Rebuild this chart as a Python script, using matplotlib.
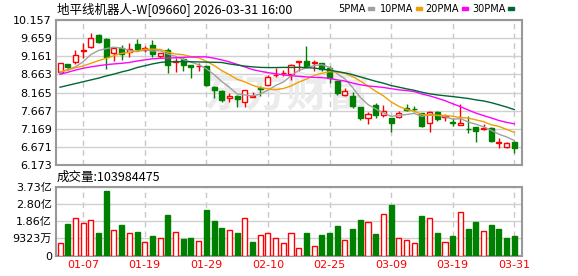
import numpy as np
import matplotlib
matplotlib.use("Agg")
import matplotlib.pyplot as plt
from matplotlib.patches import Rectangle

plt.rcParams['font.family'] = ['DejaVu Sans', 'Noto Sans CJK SC']

# ---- data (price in HKD, volume in 亿 shares) ----
tick_idx = [3, 11, 19, 27, 35, 43, 51, 59]
tick_lbl = ['01-07', '01-19', '01-29', '02-10', '02-25', '03-09', '03-19', '03-31']

opens = [8.736, 8.940, 8.995, 9.305, 9.407, 9.745, 9.627, 9.242, 9.396, 9.286,
         9.489, 9.341, 9.470, 9.176, 9.333, 9.011, 9.077, 8.920, 8.885, 8.893,
         8.316, 8.206, 8.005, 8.069, 7.895, 8.033, 8.280, 8.371, 8.640, 8.690,
         8.665, 8.995, 9.039, 8.978, 8.967, 8.846, 8.489, 8.096, 8.069, 7.775,
         7.456, 7.821, 7.547, 7.456, 7.500, 7.730, 7.711, 7.593, 7.318, 7.621,
         7.483, 7.340, 7.263, 7.175, 7.225, 7.170, 7.181, 6.790, 6.659, 6.813]
closes = [8.967, 8.874, 9.187, 9.341, 9.654, 9.544, 9.132, 9.379, 9.214, 9.360,
          9.352, 9.379, 9.214, 9.259, 8.920, 9.030, 8.920, 8.874, 8.902, 8.371,
          8.225, 7.967, 8.077, 7.986, 8.233, 8.077, 8.253, 8.581, 8.650, 8.695,
          8.920, 9.030, 8.902, 8.985, 8.810, 8.555, 8.143, 8.206, 7.794, 7.456,
          7.566, 7.550, 7.656, 7.318, 7.593, 7.684, 7.700, 7.244, 7.621, 7.428,
          7.527, 7.330, 7.335, 7.160, 7.115, 7.180, 6.840, 6.800, 6.785, 6.631]
highs = [8.970, 8.950, 9.333, 9.517, 9.792, 9.772, 9.671, 9.400, 9.470, 9.517,
         9.627, 9.450, 9.607, 9.260, 9.379, 9.105, 9.105, 8.930, 8.967, 8.900,
         8.330, 8.233, 8.160, 8.096, 8.240, 8.187, 8.343, 8.645, 8.830, 8.783,
         8.948, 9.035, 9.443, 9.058, 8.985, 8.902, 8.490, 8.280, 8.187, 7.780,
         7.638, 7.868, 7.821, 7.460, 7.656, 7.850, 7.794, 7.600, 7.665, 7.656,
         7.574, 7.456, 7.840, 7.519, 7.225, 7.299, 7.225, 6.904, 6.813, 6.830]
lows = [8.700, 8.783, 8.940, 9.105, 9.379, 9.533, 8.802, 9.030, 9.058, 9.149,
        9.305, 9.286, 9.149, 9.105, 8.692, 8.736, 8.746, 8.571, 8.746, 8.343,
        8.022, 7.895, 7.895, 7.775, 7.775, 8.030, 8.077, 8.360, 8.581, 8.626,
        8.508, 8.755, 8.874, 8.755, 8.755, 8.434, 8.096, 8.070, 7.749, 7.409,
        7.291, 7.456, 7.500, 7.088, 7.456, 7.665, 7.620, 7.209, 7.088, 7.390,
        7.390, 7.244, 7.263, 7.043, 6.813, 7.125, 6.813, 6.631, 6.631, 6.510]
volumes = [0.65, 1.69, 2.05, 1.78, 1.94, 1.20, 3.47, 1.40, 1.63, 1.19,
           1.26, 0.72, 1.04, 0.92, 2.17, 1.26, 0.88, 0.93, 0.77, 2.44,
           1.85, 1.47, 1.40, 1.20, 2.05, 0.72, 1.13, 1.24, 0.92, 0.65,
           1.19, 0.38, 1.20, 0.54, 1.09, 1.24, 1.58, 0.86, 1.42, 1.90,
           1.79, 1.15, 2.26, 2.71, 0.97, 0.86, 0.66, 2.12, 2.05, 1.20,
           0.72, 1.04, 2.37, 1.42, 1.79, 1.35, 1.63, 1.42, 0.93, 1.04]

ma5 = [8.700, 8.800, 8.870, 9.010, 9.205, 9.320, 9.372, 9.410, 9.385, 9.326,
       9.287, 9.337, 9.304, 9.313, 9.225, 9.160, 9.069, 9.001, 8.929, 8.819,
       8.658, 8.468, 8.308, 8.125, 8.098, 8.068, 8.125, 8.226, 8.359, 8.451,
       8.620, 8.775, 8.839, 8.906, 8.929, 8.856, 8.679, 8.540, 8.302, 8.031,
       7.833, 7.715, 7.605, 7.509, 7.537, 7.560, 7.590, 7.508, 7.568, 7.535,
       7.504, 7.430, 7.448, 7.356, 7.293, 7.224, 7.126, 7.019, 6.944, 6.847]
ma10 = [8.736, 8.780, 8.846, 8.893, 8.967, 9.039, 9.105, 9.176, 9.242, 9.266,
        9.304, 9.355, 9.357, 9.349, 9.276, 9.224, 9.203, 9.153, 9.121, 9.022,
        8.909, 8.769, 8.655, 8.527, 8.459, 8.363, 8.297, 8.267, 8.242, 8.275,
        8.344, 8.450, 8.533, 8.633, 8.690, 8.738, 8.727, 8.690, 8.604, 8.480,
        8.345, 8.199, 8.074, 7.907, 7.786, 7.698, 7.654, 7.558, 7.540, 7.538,
        7.534, 7.510, 7.478, 7.462, 7.414, 7.364, 7.278, 7.234, 7.150, 7.070]
ma20 = [8.665, 8.720, 8.780, 8.830, 8.870, 8.900, 8.930, 8.950, 8.967, 8.990,
        9.030, 9.060, 9.090, 9.105, 9.110, 9.120, 9.130, 9.140, 9.145, 9.144,
        9.107, 9.062, 9.006, 8.938, 8.868, 8.794, 8.750, 8.710, 8.682, 8.649,
        8.627, 8.610, 8.594, 8.580, 8.575, 8.551, 8.512, 8.479, 8.423, 8.378,
        8.345, 8.325, 8.304, 8.270, 8.238, 8.218, 8.191, 8.124, 8.072, 8.009,
        7.940, 7.855, 7.776, 7.685, 7.600, 7.531, 7.466, 7.396, 7.345, 7.304]
ma30 = [8.310, 8.360, 8.410, 8.460, 8.510, 8.560, 8.620, 8.670, 8.730, 8.780,
        8.850, 8.900, 8.950, 8.990, 9.010, 9.010, 9.015, 9.010, 9.005, 9.000,
        8.995, 8.990, 8.950, 8.920, 8.890, 8.870, 8.855, 8.850, 8.850, 8.855,
        8.853, 8.858, 8.848, 8.836, 8.809, 8.775, 8.742, 8.704, 8.656, 8.593,
        8.533, 8.473, 8.421, 8.356, 8.312, 8.266, 8.226, 8.172, 8.129, 8.098,
        8.075, 8.053, 8.028, 8.001, 7.963, 7.933, 7.886, 7.827, 7.765, 7.696]

price_ticks = [6.173, 6.671, 7.169, 7.667, 8.165, 8.663, 9.161, 9.659, 10.157]
vol_ticks = [0, 0.9323, 1.8646, 2.7969, 3.7292]
vol_tick_lbl = ['0', '9323万', '1.86亿', '2.80亿', '3.73亿']

RED = '#ff0000'
GREEN = '#008000'
GRID = '#d0d0d0'
SPINE = '#999999'

W, H = 578, 276
def fx(px):
    return px / W
def fy(py):
    return 1 - py / H

fig = plt.figure(figsize=(W / 100, H / 100), dpi=100)
ax = fig.add_axes([fx(56), fy(165), (522 - 56) / W, (165 - 20) / H])
axv = fig.add_axes([fx(56), fy(255.5), (522 - 56) / W, (255.5 - 186.5) / H])

o = np.array(opens); c = np.array(closes)
hi = np.array(highs); lo = np.array(lows)
x = np.arange(len(o))
up = c >= o
cols = [RED if u else GREEN for u in up]

# watermark
ax.text(29.5, 8.15, '东方财富', fontsize=30, color='#ebebeb', fontweight='bold',
        style='italic', ha='center', va='center', family='Noto Sans CJK SC', zorder=1)

# candles
ax.vlines(x, lo, hi, colors=cols, lw=1, zorder=3)
body = np.maximum(np.abs(c - o), 0.012)
ax.bar(x, body, bottom=np.minimum(o, c), width=0.65,
       color=['white' if u else GREEN for u in up], edgecolor=cols, lw=1, zorder=4)

# moving averages
ax.plot(x, ma5, color='#a0a0a0', lw=1, zorder=5)
ax.plot(x, ma10, color='#f0a000', lw=1, zorder=5)
ax.plot(x, ma20, color='#ff00ff', lw=1, zorder=5)
ax.plot(x, ma30, color='#006633', lw=1, zorder=5)

# volume, coloured by change against previous close
prev = np.concatenate([[c[0] - 1], c[:-1]])
vup = c >= prev
vcols = [RED if u else GREEN for u in vup]
axv.bar(x, volumes, width=0.65, color=['white' if u else GREEN for u in vup],
        edgecolor=vcols, lw=1, zorder=3)

for a in (ax, axv):
    a.set_xlim(-0.52, 60.0)
    a.set_xticks(tick_idx)
    a.xaxis.grid(True, color='#c8c8c8', lw=1, ls=(0, (4, 3)))
    a.yaxis.grid(True, color=GRID, lw=1, ls='-')
    a.set_axisbelow(True)
    a.tick_params(length=0, labelsize=8, pad=3)
    for s in a.spines.values():
        s.set_color(SPINE)
        s.set_linewidth(1.5)

ax.set_ylim(price_ticks[0], price_ticks[-1])
ax.set_yticks(price_ticks)
ax.set_yticklabels(['%.3f' % v for v in price_ticks])
ax.set_xticklabels([])

axv.set_ylim(0, vol_ticks[-1])
axv.set_yticks(vol_ticks)
axv.set_yticklabels(vol_tick_lbl)
axv.set_xticklabels(tick_lbl, color=RED)

# header texts
fig.text(fx(57), fy(9), '地平线机器人-W[09660] 2026-03-31 16:00', fontsize=9,
         va='center', ha='left', family=['Noto Sans CJK SC', 'DejaVu Sans'])
fig.text(fx(57), fy(177), '成交量:103984475', fontsize=9,
         va='center', ha='left', family=['Noto Sans CJK SC', 'DejaVu Sans'])

legend = [('5PMA', '#a0a0a0', 338), ('10PMA', '#f0a000', 380),
          ('20PMA', '#ff00ff', 425), ('30PMA', '#006633', 472)]
for name, col, px in legend:
    t = fig.text(fx(px), fy(8.5), name, fontsize=7, va='center', ha='left')
    fig.canvas.draw()
    bb = t.get_window_extent()
    fig.patches.append(Rectangle((fx(bb.x1 + 3), fy(10)), 6 / W, 3 / H,
                                 transform=fig.transFigure, color=col))

fig.savefig('out.png', dpi=100)
